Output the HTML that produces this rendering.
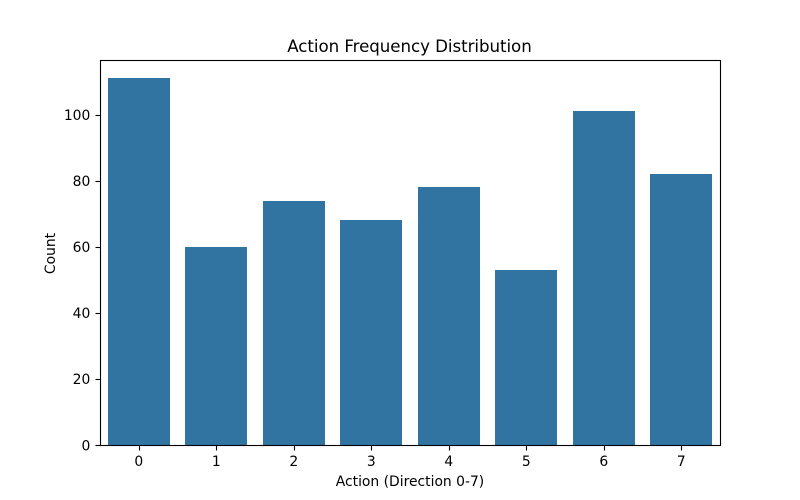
<!DOCTYPE html>
<html>
<head>
<meta charset="utf-8">
<style>
html,body{margin:0;padding:0;background:#fff;}
svg{display:block;}
text{font-family:"DejaVu Sans","Liberation Sans",sans-serif;fill:#000;}
</style>
</head>
<body>
<svg id="chart" width="800" height="500" viewBox="0 0 800 500" xmlns="http://www.w3.org/2000/svg">
  <rect x="0" y="0" width="800" height="500" fill="#fff"/>
  <g id="bars"></g>
  <g id="xticks"></g>
  <g id="yticks"></g>
  <rect x="100.5" y="60.5" width="620" height="385" fill="none" stroke="#000" stroke-width="1.11"/>
  <text x="409.5" y="52" text-anchor="middle" font-size="16.67" textLength="244.5" lengthAdjust="spacing">Action Frequency Distribution</text>
  <text x="410" y="486" text-anchor="middle" font-size="13.89">Action (Direction 0-7)</text>
  <text x="0" y="0" transform="translate(55 253.5) rotate(-90)" text-anchor="middle" font-size="13.89">Count</text>
</svg>
<script>
const categories = ["0", "1", "2", "3", "4", "5", "6", "7"];
const counts = [111, 60, 74, 68, 78, 53, 101, 82];
const yTickLabels = [0, 20, 40, 60, 80, 100];

const NS = "http://www.w3.org/2000/svg";
const plotLeft = 100, plotRight = 720, plotTop = 60, plotBottom = 445;
const barFraction = 0.8;
const yMax = Math.max(...counts) * 1.05;
const bandWidth = (plotRight - plotLeft) / categories.length;

function xCenter(i) {
  return plotLeft + (i + 0.5) * bandWidth;
}
function yScale(v) {
  return plotBottom - (v / yMax) * (plotBottom - plotTop);
}
function snapLine(p) {
  return Math.floor(p + 0.5) + 0.5;
}
function make(tag, attrs) {
  const el = document.createElementNS(NS, tag);
  for (const k in attrs) el.setAttribute(k, attrs[k]);
  return el;
}

const barsGroup = document.getElementById("bars");
const xGroup = document.getElementById("xticks");
const yGroup = document.getElementById("yticks");

categories.forEach(function (cat, i) {
  const w = bandWidth * barFraction;
  const left = Math.round(xCenter(i) - w / 2);
  const right = Math.round(xCenter(i) + w / 2);
  const top = Math.round(yScale(counts[i]));
  const bar = make("rect", {
    x: left,
    y: top,
    width: right - left,
    height: plotBottom - top,
    fill: "#3274a1"
  });
  
  
  barsGroup.appendChild(bar);

  const tx = snapLine(xCenter(i));
  const tick = make("line", {
    x1: tx,
    x2: tx,
    y1: plotBottom,
    y2: plotBottom + 5.5,
    stroke: "#000",
    "stroke-width": 1.11
  });
  
  
  xGroup.appendChild(tick);

  const label = make("text", {
    x: xCenter(i),
    y: plotBottom + 21,
    "text-anchor": "middle",
    "font-size": 13.89
  });
  label.textContent = cat;
  
  
  xGroup.appendChild(label);
});

yTickLabels.forEach(function (v) {
  const y = yScale(v);
  const ty = snapLine(y);
  const tick = make("line", {
    x1: plotLeft - 4.5,
    x2: plotLeft + 0.5,
    y1: ty,
    y2: ty,
    stroke: "#000",
    "stroke-width": 1.11
  });
  
  
  yGroup.appendChild(tick);

  const label = make("text", {
    x: plotLeft - 9.7,
    y: y + 5.3,
    "text-anchor": "end",
    "font-size": 13.89
  });
  label.textContent = String(v);
  
  
  yGroup.appendChild(label);
});
</script>
</body>
</html>
